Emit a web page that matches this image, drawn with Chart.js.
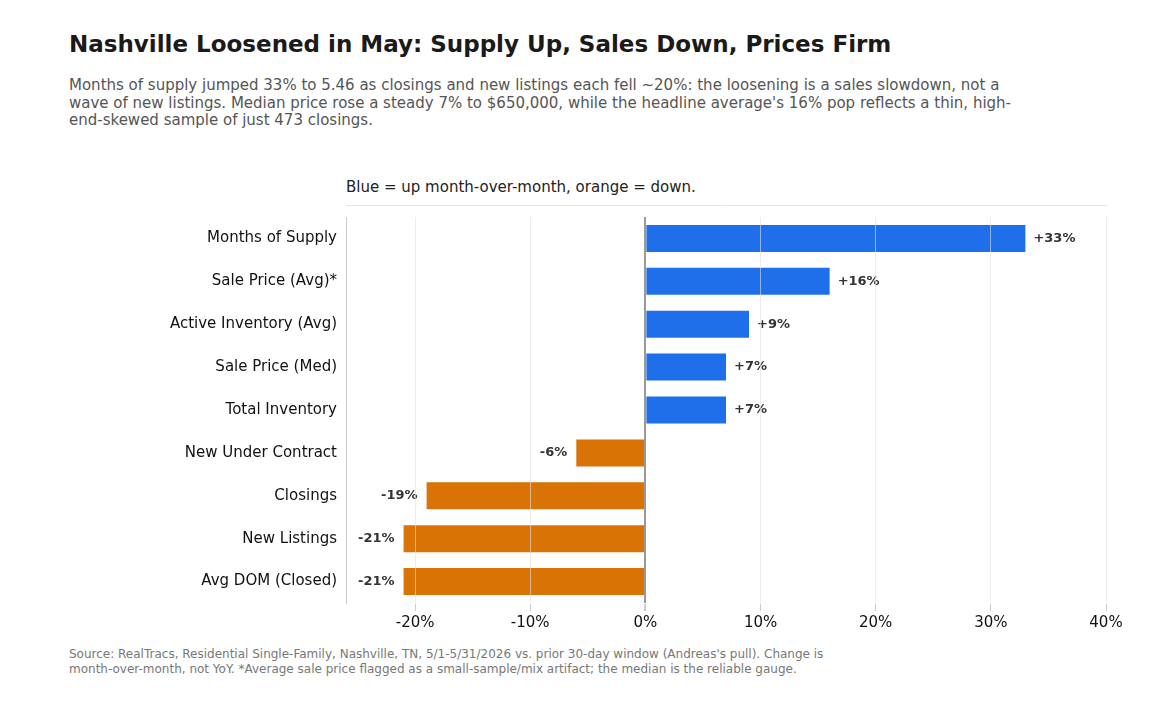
<!DOCTYPE html>
<html><head><meta charset="utf-8">
<script src="https://cdn.jsdelivr.net/npm/chart.js@4"></script>
<style>
body{margin:0;width:1152px;height:708px;background:#fff;font-family:"DejaVu Sans",sans-serif;position:relative;overflow:hidden}
#t{position:absolute;left:69px;top:31px;font-size:23px;font-weight:bold;color:#1a1a1a}
#s{position:absolute;left:69px;top:77px;width:960px;font-size:15px;line-height:17.5px;color:#555}
#c{position:absolute;left:346px;top:178px;font-size:15px;color:#222}
#src{position:absolute;left:69px;top:647px;font-size:12px;line-height:15px;color:#777}
#w{position:absolute;left:0;top:205px;width:1152px;height:430px}
</style></head><body>
<div id="t">Nashville Loosened in May: Supply Up, Sales Down, Prices Firm</div>
<div id="s">Months of supply jumped 33% to 5.46 as closings and new listings each fell ~20%: the loosening is a sales slowdown, not a wave of new listings. Median price rose a steady 7% to $650,000, while the headline average's 16% pop reflects a thin, high-end-skewed sample of just 473 closings.</div>
<div id="c">Blue = up month-over-month, orange = down.</div>
<div id="w"><canvas id="chart"></canvas></div>
<div id="src">Source: RealTracs, Residential Single-Family, Nashville, TN, 5/1-5/31/2026 vs. prior 30-day window (Andreas's pull). Change is<br>month-over-month, not YoY. *Average sale price flagged as a small-sample/mix artifact; the median is the reliable gauge.</div>
<script>
const metrics = ['Months of Supply','Sale Price (Avg)*','Active Inventory (Avg)','Sale Price (Med)','Total Inventory','New Under Contract','Closings','New Listings','Avg DOM (Closed)'];
const changes = [33,16,9,7,7,-6,-19,-21,-21];

const labelPlugin = {
  id: 'valLabels',
  afterDatasetsDraw(chart) {
    const ctx = chart.ctx;
    const meta = chart.getDatasetMeta(0);
    ctx.save();
    ctx.font = 'bold 13px "DejaVu Sans"';
    ctx.fillStyle = '#333';
    ctx.textBaseline = 'middle';
    meta.data.forEach(function(bar, i) {
      const v = changes[i];
      const txt = (v > 0 ? '+' : '') + v + '%';
      if (v >= 0) { ctx.textAlign = 'left'; ctx.fillText(txt, bar.x + 8, bar.y); }
      else { ctx.textAlign = 'right'; ctx.fillText(txt, bar.x - 9, bar.y); }
    });
    ctx.restore();
  }
};

new Chart(document.getElementById('chart'), {
  type: 'bar',
  data: {
    labels: metrics,
    datasets: [{
      data: changes,
      backgroundColor: changes.map(v => v >= 0 ? '#1f6feb' : '#d97306'),
      barPercentage: 0.63,
      categoryPercentage: 1
    }]
  },
  options: {
    indexAxis: 'y',
    responsive: true,
    maintainAspectRatio: false,
    animation: false,
    layout: { padding: { left: 0, right: 46, top: 0, bottom: 0 } },
    plugins: { legend: { display: false }, tooltip: { enabled: false } },
    scales: {
      x: {
        min: -26, max: 40,
        afterBuildTicks: function(ax) { ax.ticks = [-20,-10,0,10,20,30,40].map(v => ({ value: v })); },
        ticks: { callback: v => v + '%', color: '#111', font: { size: 15, family: 'DejaVu Sans' } },
        grid: { z: 1, color: c => c.tick && c.tick.value === 0 ? '#999' : 'rgba(225,225,225,0.6)', lineWidth: c => c.tick && c.tick.value === 0 ? 2 : 1, drawTicks: true, tickColor: '#ccc' },
        border: { color: '#ccc' }
      },
      y: {
        afterFit: function(ax) { ax.width = 346; },
        ticks: { color: '#111', font: { size: 15, family: 'DejaVu Sans' } },
        grid: { display: false, drawTicks: true, tickLength: 6, tickColor: '#333' },
        border: { color: '#ccc' }
      }
    }
  },
  plugins: [labelPlugin]
});
</script>
</body></html>
